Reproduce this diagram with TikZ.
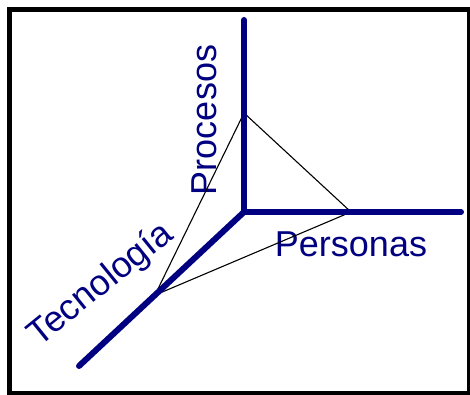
\documentclass[tikz,border=0pt]{standalone}
\usepackage{fontspec}
\setmainfont{Liberation Sans}
\usetikzlibrary{calc}
\definecolor{axisblue}{HTML}{000080}
\tikzset{
  axisline/.style={line width=6pt, draw=axisblue, line cap=round},
  triline/.style={line width=1.1pt, draw=black},
  axislabel/.style={text=axisblue, font=\fontsize{36}{38}\selectfont, inner sep=0pt}
}
\begin{document}
\begin{tikzpicture}[x=1pt,y=1pt]
  \useasboundingbox (0,0) rectangle (470,395);
  \draw[line width=5pt] (9,385) rectangle (469,1);
  % axes
  \coordinate (o) at (244,183);
  \coordinate (up) at (244,375);
  \coordinate (rt) at (461,183);
  \coordinate (dl) at (79,29);
  % labels
  \node[axislabel, rotate=90] (procesos) at (204,275) {Procesos};
  \node[axislabel, anchor=base] (personas) at (351,138) {Personas};
  \node[axislabel, rotate=39] (tecnologia) at (101,110) {Tecnología};
  % triangle
  \coordinate (p1) at (244,282);
  \coordinate (p2) at (351,183);
  \coordinate (p3) at ($(o)!0.54!(dl)$);
  \draw[triline] (p1) -- (p2) -- (p3) -- cycle;
  \draw[axisline] (o) -- (up);
  \draw[axisline] (o) -- (rt);
  \draw[axisline] (o) -- (dl);
\end{tikzpicture}
\end{document}
